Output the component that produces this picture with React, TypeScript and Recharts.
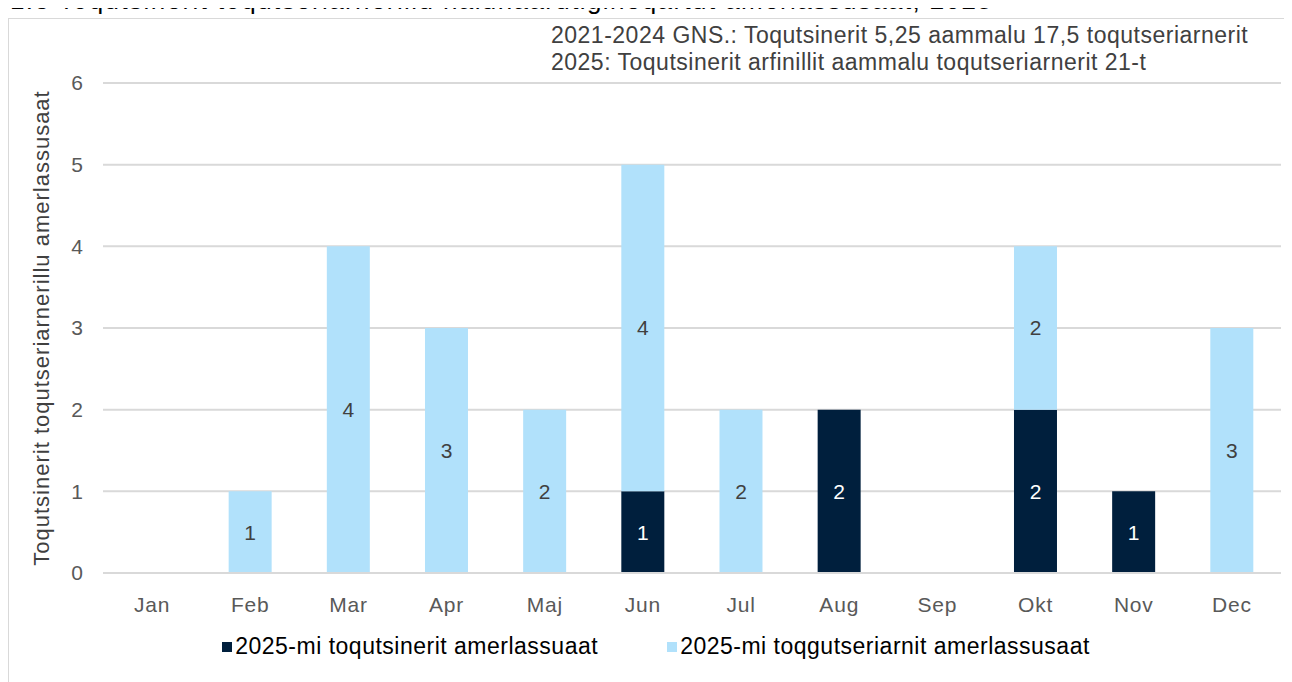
import React from "react";
import { BarChart, Bar, XAxis, YAxis, CartesianGrid, LabelList, Legend } from "recharts";

const months = ["Jan", "Feb", "Mar", "Apr", "Maj", "Jun", "Jul", "Aug", "Sep", "Okt", "Nov", "Dec"];
const killings = [0, 0, 0, 0, 0, 1, 0, 2, 0, 2, 1, 0];
const attempts = [0, 1, 4, 3, 2, 4, 2, 0, 0, 2, 0, 3];
const yTicks = [0, 1, 2, 3, 4, 5, 6];

const seriesNames = ["2025-mi toqutsinerit amerlassuaat", "2025-mi toqgutseriarnit amerlassusaat"];
const notes = [
  "2021-2024 GNS.: Toqutsinerit 5,25 aammalu 17,5 toqutseriarnerit",
  "2025: Toqutsinerit arfinillit aammalu toqutseriarnerit 21-t",
];
const title = "1.3 Toqutsinerit toqutseriarnerillu nalunaarutigineqartut amerlassusaat, 2025";
const yLabel = "Toqutsinerit toqutseriarnerillu amerlassusaat";

const data = months.map((m, i) => ({ month: m, killings: killings[i], attempts: attempts[i] }));

const DARK = "#001F3D";
const LIGHT = "#B1E1FB";
const FONT = "'Liberation Sans', Arial, sans-serif";

const fmt = (v: any) => (v ? String(v) : "");

const LegendContent = () => (
  <div
    style={{
      display: "flex",
      justifyContent: "center",
      fontFamily: FONT,
      fontSize: 23,
      letterSpacing: 0.5,
      color: "#000",
      paddingLeft: 12,
    }}
  >
    {[DARK, LIGHT].map((c, i) => (
      <div key={i} style={{ display: "flex", alignItems: "center", marginRight: i === 0 ? 69 : 0 }}>
        <span style={{ display: "inline-block", width: 10, height: 10, background: c, marginRight: 3 }} />
        <span>{seriesNames[i]}</span>
      </div>
    ))}
  </div>
);

export default function App() {
  return (
    <div style={{ position: "relative", width: 1284, height: 674, overflow: "visible" }}>
      <div
        style={{
          position: "absolute",
          left: 2,
          top: -23,
          fontFamily: FONT,
          fontSize: 26,
          letterSpacing: 1.4,
          color: "#000",
          whiteSpace: "nowrap",
        }}
      >
        {title}
      </div>
      <div
        style={{
          position: "absolute",
          left: 0,
          top: 10,
          width: 1300,
          height: 700,
          border: "1px solid #d9d9d9",
          boxSizing: "border-box",
          background: "transparent",
        }}
      />
      <div
        style={{
          position: "absolute",
          left: 543,
          top: 14,
          fontFamily: FONT,
          fontSize: 23,
          letterSpacing: 0.5,
          color: "#404040",
          lineHeight: "27px",
          whiteSpace: "nowrap",
        }}
      >
        <div>{notes[0]}</div>
        <div>{notes[1]}</div>
      </div>
      <div style={{ position: "absolute", left: 0, top: 0 }}>
        <BarChart
          width={1284}
          height={674}
          data={data}
          margin={{ top: 75, right: 11, left: 0, bottom: 36 }}
          barCategoryGap="28%"
        >
          <CartesianGrid vertical={false} stroke="#d9d9d9" strokeWidth={2} />
          <XAxis
            dataKey="month"
            axisLine={{ stroke: "#d9d9d9", strokeWidth: 2 }}
            tickLine={false}
            tick={{ fill: "#595959", fontSize: 21, fontFamily: FONT, letterSpacing: 0.8 }}
            tickMargin={18}
            height={46}
          />
          <YAxis
            domain={[0, 6]}
            ticks={yTicks}
            axisLine={false}
            tickLine={false}
            width={95}
            tick={{ fill: "#595959", fontSize: 21, fontFamily: FONT }}
            tickMargin={14}
            label={{
              value: yLabel,
              angle: -90,
              position: "insideLeft",
              dx: 28,
              dy: 0,
              style: { textAnchor: "middle", fill: "#404040", fontSize: 22, letterSpacing: 1, fontFamily: FONT },
            }}
          />
          <Legend
            verticalAlign="bottom"
            align="center"
            content={<LegendContent />}
            wrapperStyle={{ bottom: 22, left: 0, width: 1284 }}
          />
          <Bar dataKey="killings" stackId="a" fill={DARK} isAnimationActive={false}>
            <LabelList
              dataKey="killings"
              position="center"
              formatter={fmt}
              style={{ fill: "#ffffff", fontSize: 21, fontFamily: FONT }}
            />
          </Bar>
          <Bar dataKey="attempts" stackId="a" fill={LIGHT} isAnimationActive={false}>
            <LabelList
              dataKey="attempts"
              position="center"
              formatter={fmt}
              style={{ fill: "#404040", fontSize: 21, fontFamily: FONT }}
            />
          </Bar>
        </BarChart>
      </div>
    </div>
  );
}
